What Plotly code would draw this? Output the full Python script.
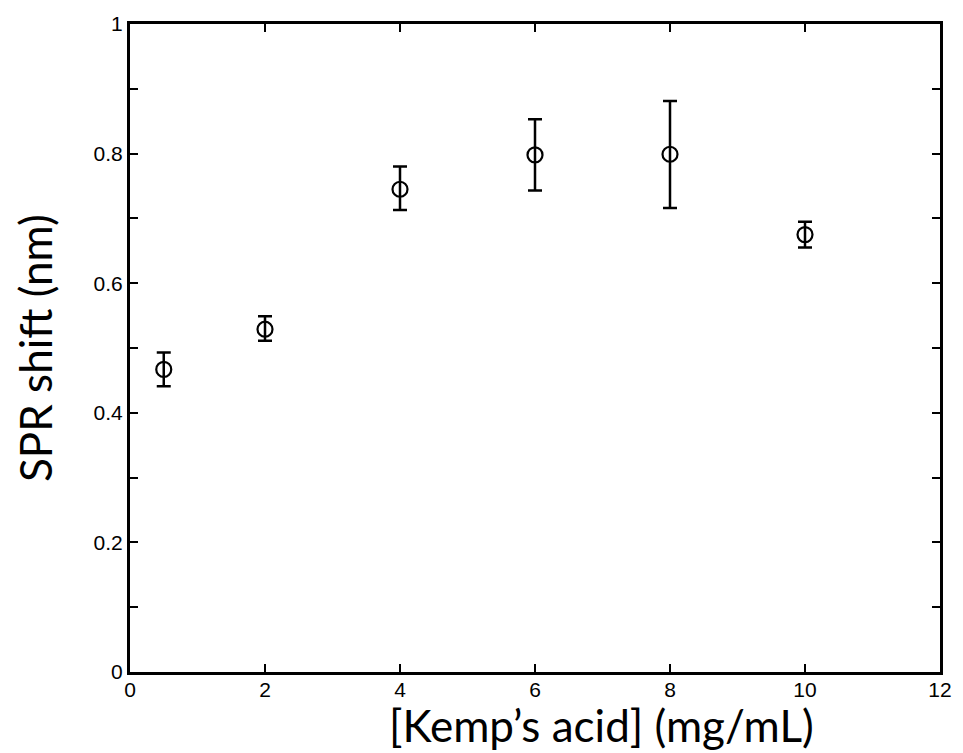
import plotly.graph_objects as go

conc = [0.5, 2, 4, 6, 8, 10]
shift = [0.467, 0.529, 0.745, 0.798, 0.799, 0.675]
err_plus = [0.026, 0.020, 0.035, 0.055, 0.082, 0.020]
err_minus = [0.026, 0.018, 0.032, 0.055, 0.083, 0.020]

y_tickvals = [round(i * 0.1, 1) for i in range(11)]
y_ticktext = ["0", "", "0.2", "", "0.4", "", "0.6", "", "0.8", "", "1"]
x_tickvals = [0, 2, 4, 6, 8, 10, 12]
x_ticktext = ["0", "2", "4", "6", "8", "10", "12"]

x_title = "[Kemp\u2019s acid] (mg/mL)"
y_title = "SPR shift (nm)"

fig = go.Figure()
fig.add_trace(go.Scatter(
    x=conc, y=shift, mode="markers",
    marker=dict(symbol="circle-open", size=15, color="black", line=dict(width=2.2, color="black")),
    error_y=dict(type="data", symmetric=False, array=err_plus, arrayminus=err_minus,
                 color="black", thickness=2.5, width=7),
    showlegend=False,
))

tick_family = "Liberation Sans, Arial, sans-serif"
title_family = "Lato, Open Sans, sans-serif"

fig.add_annotation(text=x_title, xref="paper", yref="paper", x=0.5815, y=0,
                   xanchor="center", yanchor="middle", yshift=-53, showarrow=False,
                   borderpad=0, font=dict(size=44, family=title_family, color="black"))
fig.add_annotation(text=y_title, xref="paper", yref="paper", x=0, y=0.5,
                   xanchor="center", yanchor="middle", xshift=-95, textangle=-90,
                   borderpad=0, showarrow=False,
                   font=dict(size=44, family=title_family, color="black"))

fig.update_layout(
    width=955, height=745,
    margin=dict(l=122, r=23, t=16, b=81, autoexpand=False),
    plot_bgcolor="white", paper_bgcolor="white",
    font=dict(family=tick_family, color="black", size=21),
    xaxis=dict(range=[0, 12], tickvals=x_tickvals, ticktext=x_ticktext,
               ticks="inside", ticklen=8, tickwidth=1.5, tickcolor="black",
               showline=True, linewidth=3, linecolor="black", mirror="ticks",
               showgrid=False, zeroline=False, automargin=False,
               ticklabelstandoff=-3,
               tickfont=dict(size=21, family=tick_family)),
    yaxis=dict(range=[0, 1], tickvals=y_tickvals, ticktext=y_ticktext,
               ticks="inside", ticklen=8, tickwidth=1.5, tickcolor="black",
               showline=True, linewidth=3, linecolor="black", mirror="ticks",
               showgrid=False, zeroline=False, automargin=False,
               tickfont=dict(size=21, family=tick_family)),
)

fig.write_html("out.html")
